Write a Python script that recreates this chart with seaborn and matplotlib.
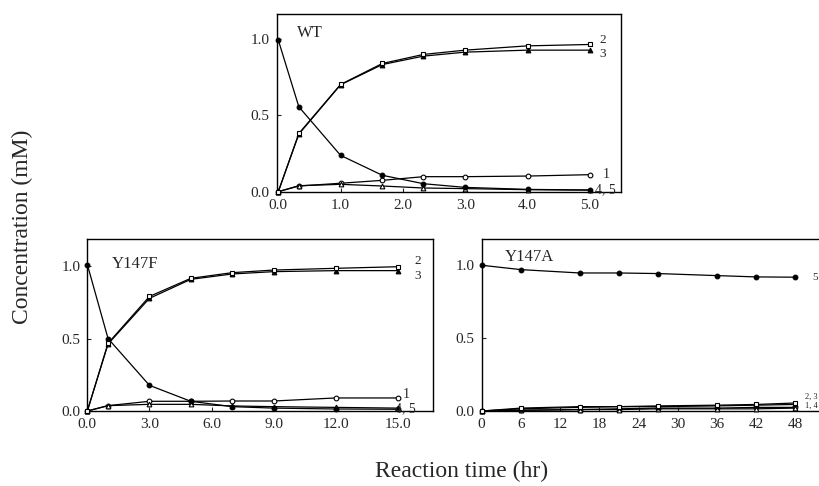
import matplotlib
matplotlib.use("Agg")
import matplotlib.pyplot as plt
import seaborn as sns
import pandas as pd

# ---- WT (hr) ----
wt_time = [0, 0.33, 1.0, 1.67, 2.33, 3.0, 4.0, 5.0]
wt_s1 = [0, 0.037, 0.055, 0.074, 0.098, 0.098, 0.102, 0.111]
wt_s2 = [0, 0.380, 0.700, 0.837, 0.896, 0.924, 0.952, 0.961]
wt_s3 = [0, 0.376, 0.698, 0.830, 0.885, 0.911, 0.924, 0.924]
wt_s4 = [0, 0.039, 0.048, 0.037, 0.024, 0.020, 0.013, 0.010]
wt_s5 = [0.99, 0.554, 0.237, 0.107, 0.052, 0.028, 0.015, 0.011]

# ---- Y147F (hr) ----
f_time = [0, 1, 3, 5, 7, 9, 12, 15]
f_s1 = [0, 0.037, 0.067, 0.067, 0.069, 0.069, 0.090, 0.090]
f_s2 = [0, 0.467, 0.790, 0.915, 0.954, 0.972, 0.984, 0.995]
f_s3 = [0, 0.462, 0.777, 0.908, 0.945, 0.961, 0.968, 0.968]
f_s4 = [0, 0.037, 0.046, 0.046, 0.035, 0.030, 0.025, 0.020]
f_s5 = [1.01, 0.500, 0.177, 0.067, 0.030, 0.020, 0.014, 0.012]

# ---- Y147A (hr) ----
a_time = [0, 6, 15, 21, 27, 36, 42, 48]
a_s1 = [0, 0.005, 0.010, 0.015, 0.020, 0.020, 0.025, 0.025]
a_s2 = [0, 0.020, 0.030, 0.030, 0.035, 0.040, 0.045, 0.055]
a_s3 = [0, 0.015, 0.025, 0.030, 0.030, 0.035, 0.040, 0.045]
a_s4 = [0, 0.005, 0.010, 0.010, 0.015, 0.015, 0.015, 0.020]
a_s5 = [1.00, 0.970, 0.947, 0.947, 0.943, 0.929, 0.920, 0.918]

wt_ticks = [0, 1, 2, 3, 4, 5]
wt_ticklabels = ["0.0", "1.0", "2.0", "3.0", "4.0", "5.0"]
f_ticks = [0, 3, 6, 9, 12, 15]
f_ticklabels = ["0.0", "3.0", "6.0", "9.0", "12.0", "15.0"]
a_ticks = [0, 6, 12, 18, 24, 30, 36, 42, 48]
a_ticklabels = ["0", "6", "12", "18", "24", "30", "36", "42", "48"]
y_ticks = [0, 0.5, 1.0]
y_ticklabels = ["0.0", "0.5", "1.0"]

sns.set_style("ticks", {"xtick.direction": "in", "ytick.direction": "in"})
plt.rcParams["font.family"] = ["Liberation Serif", "DejaVu Serif"]

fig = plt.figure(figsize=(8.2, 4.86), dpi=100)

# marker style per series: (marker, face colour)
styles = {
    "1": ("o", "white"),
    "2": ("s", "white"),
    "3": ("^", "black"),
    "4": ("^", "white"),
    "5": ("o", "black"),
}


def draw_panel(ax, t, series, xlim, ylim, xticks, xticklabels, title, title_pos):
    for name, vals in series:
        mk, face = styles[name]
        df = pd.DataFrame({"t": t, "c": vals})
        sns.lineplot(data=df, x="t", y="c", ax=ax, color="black", lw=0.9,
                     marker=mk, markersize=3.4, markerfacecolor=face,
                     markeredgecolor="black", markeredgewidth=0.8,
                     clip_on=False, zorder=3)
    ax.set_xlim(*xlim)
    ax.set_ylim(*ylim)
    ax.set_xticks(xticks)
    ax.set_xticklabels(xticklabels)
    ax.set_yticks(y_ticks)
    ax.set_yticklabels(y_ticklabels)
    ax.tick_params(labelsize=11, length=3, width=0.8, pad=5)
    ax.set_xlabel("")
    ax.set_ylabel("")
    for sp in ax.spines.values():
        sp.set_visible(True)
        sp.set_linewidth(1.0)
        sp.set_color("black")
    ax.text(title_pos[0], title_pos[1], title, transform=ax.transAxes,
            fontsize=12, ha="left", va="center")


# WT
ax_wt = fig.add_axes([0.3374, 0.6056, 0.4199, 0.3656])
draw_panel(ax_wt, wt_time,
           [("1", wt_s1), ("4", wt_s4), ("5", wt_s5), ("3", wt_s3), ("2", wt_s2)],
           (-0.026, 5.50), (0, 1.16), wt_ticks, wt_ticklabels, "WT", (0.059, 0.893))
ax_wt.text(5.20, 0.990, "2", fontsize=9.5, ha="center", va="center")
ax_wt.text(5.20, 0.900, "3", fontsize=9.5, ha="center", va="center")
ax_wt.text(5.27, 0.109, "1", fontsize=10, ha="center", va="center")
ax_wt.text(5.08, 0.011, "4, 5", fontsize=10, ha="left", va="center")

# Y147F
ax_f = fig.add_axes([0.1065, 0.1543, 0.4216, 0.3533])
draw_panel(ax_f, f_time,
           [("1", f_s1), ("4", f_s4), ("5", f_s5), ("3", f_s3), ("2", f_s2)],
           (0, 16.7), (0, 1.184), f_ticks, f_ticklabels, "Y147F", (0.071, 0.856))
ax_f.text(15.95, 1.035, "2", fontsize=9.5, ha="center", va="center")
ax_f.text(15.95, 0.932, "3", fontsize=9.5, ha="center", va="center")
ax_f.text(15.40, 0.115, "1", fontsize=10, ha="center", va="center")
ax_f.text(14.84, 0.019, "4, 5", fontsize=10, ha="left", va="center")

# Y147A
ax_a = fig.add_axes([0.5874, 0.1543, 0.4216, 0.3533])
draw_panel(ax_a, a_time,
           [("1", a_s1), ("4", a_s4), ("3", a_s3), ("2", a_s2), ("5", a_s5)],
           (0, 52.9), (0, 1.178), a_ticks, a_ticklabels, "Y147A", (0.0675, 0.899))
ax_a.text(51.07, 0.913, "5", fontsize=8, ha="center", va="center")
ax_a.text(49.5, 0.098, "2, 3", fontsize=6, ha="left", va="center")
ax_a.text(49.5, 0.038, "1, 4", fontsize=6, ha="left", va="center")

fig.text(0.027, 0.533, "Concentration (mM)", rotation=90, fontsize=17,
         ha="center", va="center")
fig.text(0.563, 0.029, "Reaction time (hr)", fontsize=17, ha="center", va="center")

fig.savefig("out.png", dpi=100)
